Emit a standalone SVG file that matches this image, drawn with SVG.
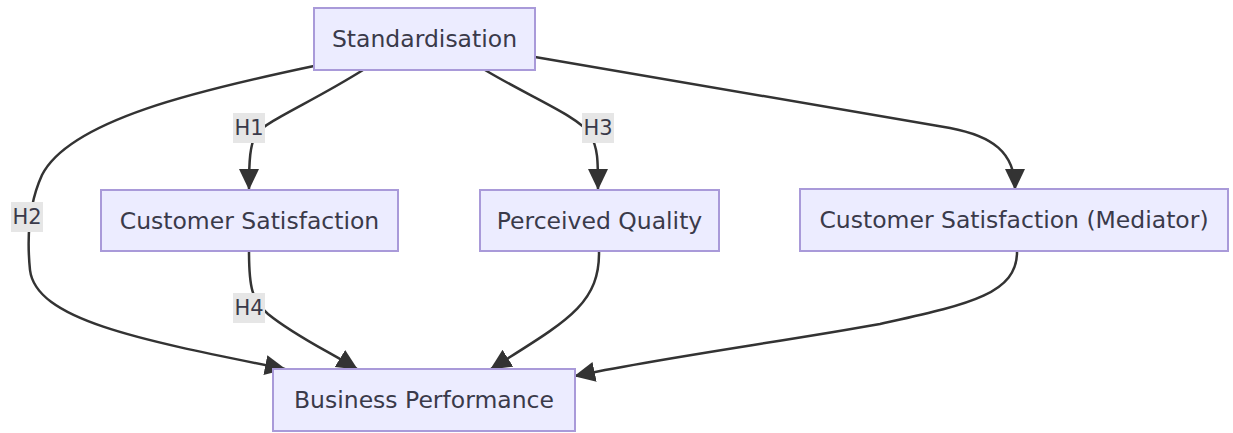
<svg xmlns="http://www.w3.org/2000/svg" width="1233" height="433" viewBox="0 0 1233 433">
<style>
.node rect{fill:#ECECFF;stroke:#a99ad9;stroke-width:2}
.node text{font-family:"DejaVu Sans","Open Sans",sans-serif;font-size:23.5px;fill:#3a3a4a;text-anchor:middle;dominant-baseline:central}
.edge{fill:none;stroke:#333;stroke-width:2.5}
.lbl rect{fill:#e6e6e6}
.lbl text{font-family:"DejaVu Sans","Open Sans",sans-serif;font-size:21px;fill:#3a3a4a;text-anchor:middle;dominant-baseline:central}
</style>
<defs>
<marker id="arr" markerUnits="userSpaceOnUse" markerWidth="22" markerHeight="22" refX="20" refY="10" orient="auto">
<path d="M0,0 L21,10 L0,20 z" fill="#333"/>
</marker>
</defs>
<rect width="1233" height="433" fill="#ffffff"/>
<g id="connectors">
<path class="edge" marker-end="url(#arr)" d="M363,70 C312,102 268,120 256,134 C250,145 249,160 249,189"/>
<path class="edge" marker-end="url(#arr)" d="M314,66 C200,90 70,120 42,175 C26,210 28,250 30,270 C36,320 140,340 285,369"/>
<path class="edge" marker-end="url(#arr)" d="M485,70 C530,97 578,116 590,134 C598,148 598,160 598,189"/>
<path class="edge" marker-end="url(#arr)" d="M535,57 L950,128 C992,136 1015,152 1015,189"/>
<path class="edge" marker-end="url(#arr)" d="M249,251 C249,288 252,300 268,314 C295,336 326,350 357,369"/>
<path class="edge" marker-end="url(#arr)" d="M599,251 C600,305 565,322 491,369"/>
<path class="edge" marker-end="url(#arr)" d="M1017,251 C1018,295 965,305 880,324 C780,342 660,358 575,376"/>
</g>
<g id="label-H1" class="lbl"><rect x="233" y="113" width="32" height="30"/><text x="249" y="128">H1</text></g>
<g id="label-H2" class="lbl"><rect x="11" y="202" width="32" height="30"/><text x="27" y="217">H2</text></g>
<g id="label-H3" class="lbl"><rect x="582" y="113" width="32" height="30"/><text x="598" y="128">H3</text></g>
<g id="label-H4" class="lbl"><rect x="233" y="293" width="32" height="30"/><text x="249" y="308">H4</text></g>
<g id="node-standardisation" class="node"><rect x="314" y="8" width="221" height="62"/><text x="424.5" y="39">Standardisation</text></g>
<g id="node-customer-satisfaction" class="node"><rect x="101" y="190" width="297" height="61"/><text x="249.5" y="220.5">Customer Satisfaction</text></g>
<g id="node-perceived-quality" class="node"><rect x="480" y="190" width="239" height="61"/><text x="599.5" y="220.5">Perceived Quality</text></g>
<g id="node-mediator" class="node"><rect x="800" y="189" width="428" height="62"/><text x="1014" y="220">Customer Satisfaction (Mediator)</text></g>
<g id="node-business-performance" class="node"><rect x="273" y="369" width="302" height="62"/><text x="424" y="400">Business Performance</text></g>
</svg>
